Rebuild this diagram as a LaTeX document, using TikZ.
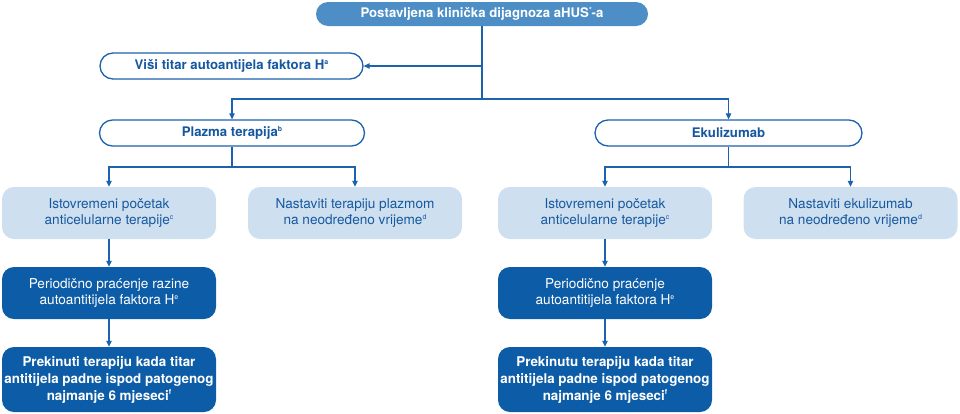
\documentclass[tikz,border=0pt]{standalone}
\usepackage{fontspec}
\setmainfont{TeX Gyre Heros}
\usetikzlibrary{arrows.meta}
\definecolor{topblue}{RGB}{76,142,197}
\definecolor{lineblue}{RGB}{28,98,172}
\definecolor{textblue}{RGB}{22,88,160}
\definecolor{lightblue}{RGB}{206,224,239}
\definecolor{darkblue}{RGB}{12,92,167}
\newcommand{\sfn}[1]{\raisebox{0.75ex}{\fontsize{7}{7}\selectfont #1}}
\begin{document}
\begin{tikzpicture}[x=1pt,y=-1pt,
  conn/.style={draw=lineblue, line width=1.2pt},
  arr/.style={conn, -{Triangle[length=6pt,width=5.5pt]}},
  topnode/.style={fill=topblue, rounded corners=12pt, minimum height=24pt, minimum width=332pt, inner sep=0pt, text=white, font=\bfseries\fontsize{13.2}{15}\selectfont},
  pill/.style={draw=lineblue, line width=1.3pt, fill=white, rounded corners=13pt, minimum height=26pt, inner sep=0pt, text=textblue, font=\bfseries\fontsize{13.2}{15}\selectfont},
  lightbox/.style={fill=lightblue, rounded corners=12pt, minimum width=214pt, minimum height=52pt, inner sep=0pt, align=center, text=textblue, font=\fontsize{13.6}{16}\selectfont},
  darkbox/.style={fill=darkblue, rounded corners=12pt, minimum width=214pt, minimum height=52pt, inner sep=0pt, align=center, text=white, font=\fontsize{13.6}{16}\selectfont},
  darkboldbox/.style={darkbox, minimum height=65pt, font=\bfseries\fontsize{13.4}{17}\selectfont}
]
\useasboundingbox (0,0) rectangle (960,413);

\node[topnode] (top) at (482,14) {Postavljena klinička dijagnoza aHUS\sfn{*}-a};
\node[pill, minimum width=263pt] (titar) at (231.5,66) {Viši titar autoantijela faktora H\sfn{a}};
\node[pill, minimum width=265pt] (plazma) at (232,133) {Plazma terapija\sfn{b}};
\node[pill, minimum width=267pt] (eku) at (728.5,133) {Ekulizumab};

\node[lightbox] (l1) at (109,213) {Istovremeni početak\\anticelularne terapije\sfn{c}};
\node[lightbox] (l2) at (355,213) {Nastaviti terapiju plazmom\\na neodređeno vrijeme\sfn{d}};
\node[lightbox] (r1) at (605,213) {Istovremeni početak\\anticelularne terapije\sfn{c}};
\node[lightbox] (r2) at (850.5,213) {Nastaviti ekulizumab\\na neodređeno vrijeme\sfn{d}};

\node[darkbox] (l3) at (109,293) {Periodično praćenje razine\\autoantitijela faktora H\sfn{e}};
\node[darkbox] (r3) at (605,293) {Periodično praćenje\\autoantitijela faktora H\sfn{e}};

\node[darkboldbox] (l4) at (109,379.5) {Prekinuti terapiju kada titar\\antitijela padne ispod patogenog\\najmanje 6 mjeseci\sfn{f}};
\node[darkboldbox] (r4) at (605,379.5) {Prekinutu terapiju kada titar\\antitijela padne ispod patogenog\\najmanje 6 mjeseci\sfn{f}};

\coordinate (j0) at (482,66);
\coordinate (j1) at (482,99);
\coordinate (j2) at (232,167);
\coordinate (j3) at (728.5,167);

\draw[conn] (top.south) -- (j1);
\draw[arr] (j0) -- (titar.east);
\draw[arr] (j1) -| (plazma.north);
\draw[arr] (j1) -| (eku.north);

\draw[conn] (plazma.south) -- (j2);
\draw[arr] (j2) -| (l1.north);
\draw[arr] (j2) -| (l2.north);
\draw[conn] (eku.south) -- (j3);
\draw[arr] (j3) -| (r1.north);
\draw[arr] (j3) -| (r2.north);

\draw[arr] (l1.south) -- (l3.north);
\draw[arr] (l3.south) -- (l4.north);
\draw[arr] (r1.south) -- (r3.north);
\draw[arr] (r3.south) -- (r4.north);
\end{tikzpicture}
\end{document}
